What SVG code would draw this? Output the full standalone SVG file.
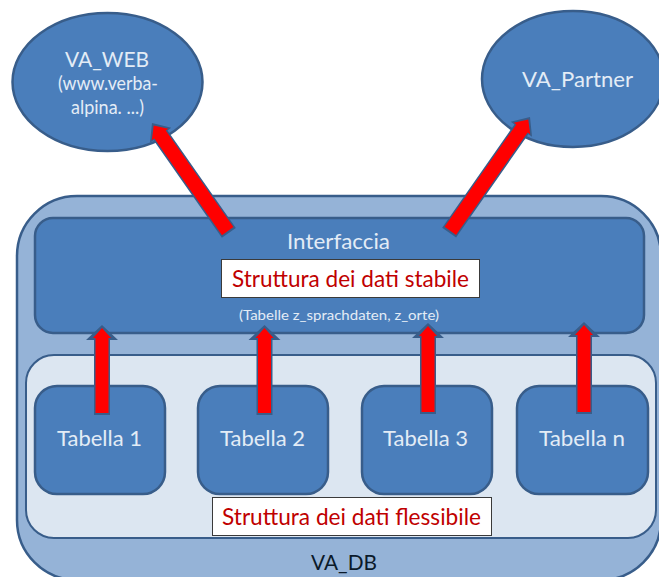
<svg xmlns="http://www.w3.org/2000/svg" width="659" height="577" viewBox="0 0 659 577">
<style>
text{font-family:"Lato","Liberation Sans",sans-serif;text-anchor:middle;fill:#e3ecf6}
.n{fill:#4a7ebb;stroke:#385d8a;stroke-width:2.5}
.b{fill:#fff;stroke:#3a3a3a;stroke-width:1}
.l{font-size:22px}
.s{font-size:18.500px}
.r{font-size:23px;fill:#c00000}
.ab{fill:#385d8a}
.ar{fill:#f00}
</style>
<rect width="659" height="577" fill="#fff"/>
<g id="va_web"><ellipse class="n" cx="107.500" cy="82" rx="95" ry="69"/>
<text class="l" x="107" y="67" textLength="84" lengthAdjust="spacingAndGlyphs">VA_WEB</text>
<text class="s" x="108" y="90" textLength="100" lengthAdjust="spacingAndGlyphs">(www.verba-</text>
<text class="s" x="107.500" y="114" textLength="73" lengthAdjust="spacingAndGlyphs">alpina. ...)</text></g>
<g id="va_partner"><ellipse class="n" cx="573" cy="79" rx="91" ry="68"/>
<text class="l" x="577.500" y="87" textLength="111" lengthAdjust="spacingAndGlyphs">VA_Partner</text></g>
<g id="va_db"><rect x="17" y="196" width="644" height="384" rx="60" fill="#95b3d7" stroke="#385d8a" stroke-width="2.500"/>
<text class="l" x="344" y="570" textLength="66" lengthAdjust="spacingAndGlyphs" style="fill:#0b1a2a">VA_DB</text></g>
<g id="interfaccia"><rect class="n" x="35" y="218" width="609" height="115" rx="18"/>
<text class="l" x="338.500" y="249" textLength="103" lengthAdjust="spacingAndGlyphs">Interfaccia</text>
<text x="339" y="320" font-size="14" textLength="200" lengthAdjust="spacingAndGlyphs">(Tabelle z_sprachdaten, z_orte)</text></g>
<g id="stabile"><rect class="b" x="221.500" y="259.500" width="258" height="38"/>
<text class="r" x="350.500" y="287" textLength="237" lengthAdjust="spacingAndGlyphs">Struttura dei dati stabile</text></g>
<g id="flessibile-area"><rect x="26" y="355" width="630" height="183" rx="28" fill="#dce6f1" stroke="#385d8a" stroke-width="2"/></g>
<g id="tabella1"><rect class="n" x="35" y="386" width="130" height="108" rx="22"/><text class="l" x="99.500" y="446" textLength="85" lengthAdjust="spacingAndGlyphs">Tabella 1</text></g>
<g id="tabella2"><rect class="n" x="198" y="386" width="130" height="108" rx="22"/><text class="l" x="262.500" y="446" textLength="85" lengthAdjust="spacingAndGlyphs">Tabella 2</text></g>
<g id="tabella3"><rect class="n" x="362" y="386" width="130" height="108" rx="22"/><text class="l" x="425.500" y="446" textLength="85" lengthAdjust="spacingAndGlyphs">Tabella 3</text></g>
<g id="tabellan"><rect class="n" x="517" y="386" width="131" height="108" rx="22"/><text class="l" x="582" y="446" textLength="86" lengthAdjust="spacingAndGlyphs">Tabella n</text></g>
<g id="flessibile"><rect class="b" x="212.500" y="497.500" width="279" height="38"/>
<text class="r" x="351.500" y="525" textLength="259" lengthAdjust="spacingAndGlyphs">Struttura dei dati flessibile</text></g>
<g id="connectors">
<g transform="translate(102 325)"><path class="ab" d="M0 0L16 15H8V90H-8V15H-16Z"/><path class="ar" d="M0 3L9 13H6.500V88H-6.500V13H-9Z"/></g>
<g transform="translate(264.500 325)"><path class="ab" d="M0 0L16 15H8V90H-8V15H-16Z"/><path class="ar" d="M0 3L9 13H6.500V88H-6.500V13H-9Z"/></g>
<g transform="translate(428 323)"><path class="ab" d="M0 0L16 15H8V91H-8V15H-16Z"/><path class="ar" d="M0 3L9 13H6.500V89H-6.500V13H-9Z"/></g>
<g transform="translate(584 322)"><path class="ab" d="M0 0L16 15H8V92H-8V15H-16Z"/><path class="ar" d="M0 3L9 13H6.500V90H-6.500V13H-9Z"/></g>
<g transform="translate(152 123) rotate(-35)"><path class="ab" d="M0 0L13 15H8.500V134H-8.500V15H-13Z"/><path class="ar" d="M0 3L10 14H7V132H-7V14H-10Z"/></g>
<g transform="translate(530 117) rotate(35)"><path class="ab" d="M0 0L13 15H8.500V141H-8.500V15H-13Z"/><path class="ar" d="M0 3L10 14H7V139H-7V14H-10Z"/></g>
</g>
</svg>
